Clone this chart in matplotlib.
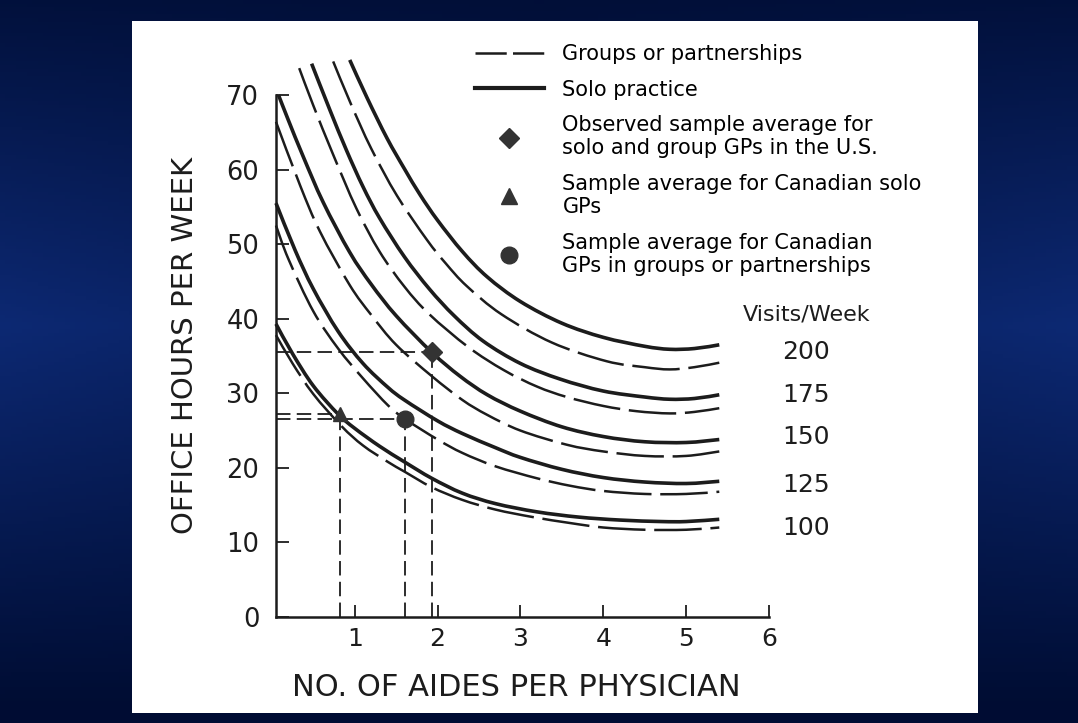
import numpy as np
import matplotlib
matplotlib.use("Agg")
import matplotlib.pyplot as plt
from matplotlib.lines import Line2D
from matplotlib.patches import Rectangle, PathPatch
from matplotlib.path import Path

plt.rcParams['font.family'] = ['DejaVu Sans']

# ---- data (aides per physician -> office hours per week) ----
# solo practice (solid)
solo_100_x = [0.05, 0.25, 0.5, 0.8, 1.0, 1.3, 1.6, 1.93, 2.3, 2.7, 3.2, 3.7, 4.2, 4.7, 5.0, 5.4]
solo_100_y = [39.3, 35.3, 31.0, 27.2, 25.3, 22.9, 20.8, 18.6, 16.6, 15.2, 14.1, 13.4, 13.0, 12.8, 12.8, 13.1]
solo_125_x = [0.05, 0.28, 0.5, 0.8, 1.1, 1.4, 1.6, 2.0, 2.3, 2.7, 3.0, 3.5, 4.0, 4.5, 5.0, 5.4]
solo_125_y = [55.5, 49.2, 44.0, 38.3, 34.0, 30.8, 29.1, 26.3, 24.6, 22.7, 21.4, 19.8, 18.7, 18.1, 17.9, 18.2]
solo_150_x = [0.08, 0.2, 0.38, 0.62, 0.94, 1.2, 1.5, 1.93, 2.27, 2.6, 3.0, 3.5, 4.0, 4.5, 5.0, 5.4]
solo_150_y = [70.0, 66.6, 61.7, 55.6, 48.9, 44.6, 40.4, 35.5, 32.3, 29.8, 27.6, 25.5, 24.2, 23.5, 23.4, 23.8]
solo_175_x = [0.48, 0.7, 0.9, 1.1, 1.3, 1.6, 1.9, 2.2, 2.55, 3.0, 3.48, 4.0, 4.5, 4.8, 5.1, 5.4]
solo_175_y = [74.2, 68.0, 62.6, 57.7, 53.5, 48.3, 44.0, 40.4, 37.0, 34.0, 31.9, 30.3, 29.5, 29.2, 29.3, 29.8]
solo_200_x = [0.94, 1.15, 1.39, 1.6, 1.79, 2.0, 2.3, 2.6, 3.0, 3.5, 4.0, 4.5, 4.8, 5.1, 5.4]
solo_200_y = [74.7, 69.6, 64.2, 60.1, 56.6, 53.2, 49.0, 45.6, 42.3, 39.4, 37.5, 36.3, 35.9, 36.0, 36.5]

# groups or partnerships (dashed)
group_100_x = [0.05, 0.25, 0.5, 0.84, 1.1, 1.4, 1.6, 1.93, 2.3, 2.7, 3.15, 3.6, 4.0, 4.5, 5.0, 5.4]
group_100_y = [37.8, 34.0, 29.9, 25.6, 23.0, 20.8, 19.5, 17.4, 15.7, 14.4, 13.4, 12.6, 12.0, 11.7, 11.7, 12.0]
group_125_x = [0.05, 0.2, 0.5, 0.8, 1.1, 1.4, 1.6, 2.0, 2.3, 2.7, 3.2, 3.6, 4.0, 4.5, 5.0, 5.4]
group_125_y = [52.5, 48.0, 41.0, 36.0, 32.0, 28.4, 26.6, 23.8, 22.0, 20.2, 18.6, 17.6, 16.9, 16.5, 16.5, 16.8]
group_150_x = [0.05, 0.34, 0.58, 0.94, 1.2, 1.5, 1.93, 2.3, 2.6, 3.0, 3.56, 4.0, 4.5, 5.0, 5.4]
group_150_y = [66.4, 57.9, 51.7, 44.5, 40.5, 36.5, 32.3, 29.1, 27.1, 25.0, 23.1, 22.2, 21.6, 21.6, 22.2]
group_175_x = [0.33, 0.5, 0.74, 1.02, 1.3, 1.6, 1.9, 2.37, 2.8, 3.2, 3.56, 4.0, 4.4, 4.8, 5.1, 5.4]
group_175_y = [73.6, 68.6, 62.0, 54.8, 49.0, 44.3, 40.6, 36.2, 33.1, 30.9, 29.5, 28.3, 27.6, 27.3, 27.5, 28.0]
group_200_x = [0.74, 0.95, 1.2, 1.51, 1.87, 2.1, 2.35, 2.77, 3.38, 4.04, 4.5, 4.8, 5.1, 5.4]
group_200_y = [74.5, 68.9, 62.8, 56.5, 50.6, 47.4, 44.4, 40.6, 36.8, 34.3, 33.5, 33.2, 33.5, 34.1]

visit_levels = ['200', '175', '150', '125', '100']
visit_label_y = [35.6, 29.8, 24.2, 17.7, 11.9]

# sample averages
us_avg = (1.93, 35.6)
can_solo = (0.82, 27.2)
can_group = (1.61, 26.6)

legend_labels = ['Groups or partnerships', 'Solo practice',
                 'Observed sample average for\nsolo and group GPs in the U.S.',
                 'Sample average for Canadian solo\nGPs',
                 'Sample average for Canadian\nGPs in groups or partnerships']


def smooth_path(xs, ys):
    # Catmull-Rom through the read points, expressed as cubic Bezier segments
    p = np.column_stack([xs, ys]).astype(float)
    ext = np.vstack([p[0], p, p[-1]])
    verts = [p[0]]
    codes = [Path.MOVETO]
    for i in range(1, len(ext) - 2):
        c1 = ext[i] + (ext[i + 1] - ext[i - 1]) / 6
        c2 = ext[i + 1] - (ext[i + 2] - ext[i]) / 6
        verts += [c1, c2, ext[i + 1]]
        codes += [Path.CURVE4] * 3
    return Path(verts, codes)


W, H = 1078, 723
fig = plt.figure(figsize=(W / 100, H / 100), dpi=100)

# background: dark blue gradient + white slide panel
bg = fig.add_axes([0, 0, 1, 1])
yy = np.linspace(0, 1, 200)[:, None]
xx = np.linspace(0, 1, 200)[None, :]
t = np.clip(1 - np.abs(yy - 0.55) * 1.9, 0, 1) * (0.55 + 0.45 * np.abs(xx - 0.5) * 2)
top = np.array([0.0, 0.05, 0.20])
mid = np.array([0.05, 0.16, 0.45])
img = top[None, None, :] * (1 - t[..., None]) + mid[None, None, :] * t[..., None]
bg.imshow(img, extent=[0, 1, 0, 1], aspect='auto', origin='lower')
bg.add_patch(Rectangle((132 / W, (H - 713) / H), (978 - 132) / W, (713 - 21) / H,
                       facecolor='white', edgecolor='none'))
bg.set_xlim(0, 1)
bg.set_ylim(0, 1)
bg.axis('off')

# main chart
ax = fig.add_axes([276 / W, (H - 617) / H, 493 / W, (617 - 57.7) / H])
ax.set_facecolor('none')
ink = '#1c1c1c'

for xs, ys in [(solo_100_x, solo_100_y), (solo_125_x, solo_125_y), (solo_150_x, solo_150_y),
               (solo_175_x, solo_175_y), (solo_200_x, solo_200_y)]:
    ax.add_patch(PathPatch(smooth_path(xs, ys), fill=False, edgecolor=ink, lw=2.6,
                           capstyle='butt', clip_on=False))
for xs, ys in [(group_100_x, group_100_y), (group_125_x, group_125_y), (group_150_x, group_150_y),
               (group_175_x, group_175_y), (group_200_x, group_200_y)]:
    ax.add_patch(PathPatch(smooth_path(xs, ys), fill=False, edgecolor=ink, lw=1.8,
                           ls=(0, (19, 3.5)), capstyle='butt', clip_on=False))

# guide lines to the sample averages
guide_kw = dict(color=ink, lw=1.3, ls=(0, (8, 3.5)))
for (gx, gy) in [us_avg, can_solo, can_group]:
    ax.plot([0.05, gx], [gy, gy], **guide_kw)
    ax.plot([gx, gx], [0, gy], **guide_kw)

ax.plot(*us_avg, marker='D', ms=10, color='#333333', zorder=5)
ax.plot(*can_solo, marker='^', ms=10, color='#333333', zorder=5)
ax.plot(*can_group, marker='o', ms=12, color='#333333', zorder=5)

ax.set_xlim(0.05, 6)
ax.set_ylim(0, 75)
for s in ['top', 'right']:
    ax.spines[s].set_visible(False)
for s in ['left', 'bottom']:
    ax.spines[s].set_linewidth(1.8)
    ax.spines[s].set_color(ink)
ax.spines['left'].set_bounds(0, 70)
ax.set_yticks(range(0, 71, 10))
ax.set_xticks(range(1, 7))
ax.tick_params(direction='in', length=9, width=1.3, color=ink, labelcolor=ink)
ax.tick_params(axis='y', labelsize=18.5, pad=12)
ax.tick_params(axis='x', labelsize=18, pad=7)

# curve level labels
ax.text(6.45, 40.5, 'Visits/Week', fontsize=16, ha='center', va='center', color=ink, clip_on=False)
for lab, yv in zip(visit_levels, visit_label_y):
    ax.text(6.45, yv, lab, fontsize=18, ha='center', va='center', color=ink, clip_on=False)

fig.text(516 / W, 1 - 688 / H, 'NO. OF AIDES PER PHYSICIAN', fontsize=22,
         ha='center', va='center', color=ink)
fig.text(185 / W, 1 - 345 / H, 'OFFICE HOURS PER WEEK', fontsize=21, rotation=90,
         ha='center', va='center', color=ink)

handles = [Line2D([], [], color=ink, lw=1.8, ls=(0, (12.5, 2.5))),
           Line2D([], [], color=ink, lw=3.0),
           Line2D([], [], ls='none', marker='D', ms=10, color='#333333'),
           Line2D([], [], ls='none', marker='^', ms=11, color='#333333'),
           Line2D([], [], ls='none', marker='o', ms=12, color='#333333')]
fig.legend(handles, legend_labels, loc='upper left', bbox_to_anchor=(475 / W, 1 - 44 / H),
           frameon=False, fontsize=15, handlelength=3.3, handletextpad=0.9,
           labelspacing=0.75, borderpad=0, borderaxespad=0)

fig.savefig('out.png', dpi=100)
